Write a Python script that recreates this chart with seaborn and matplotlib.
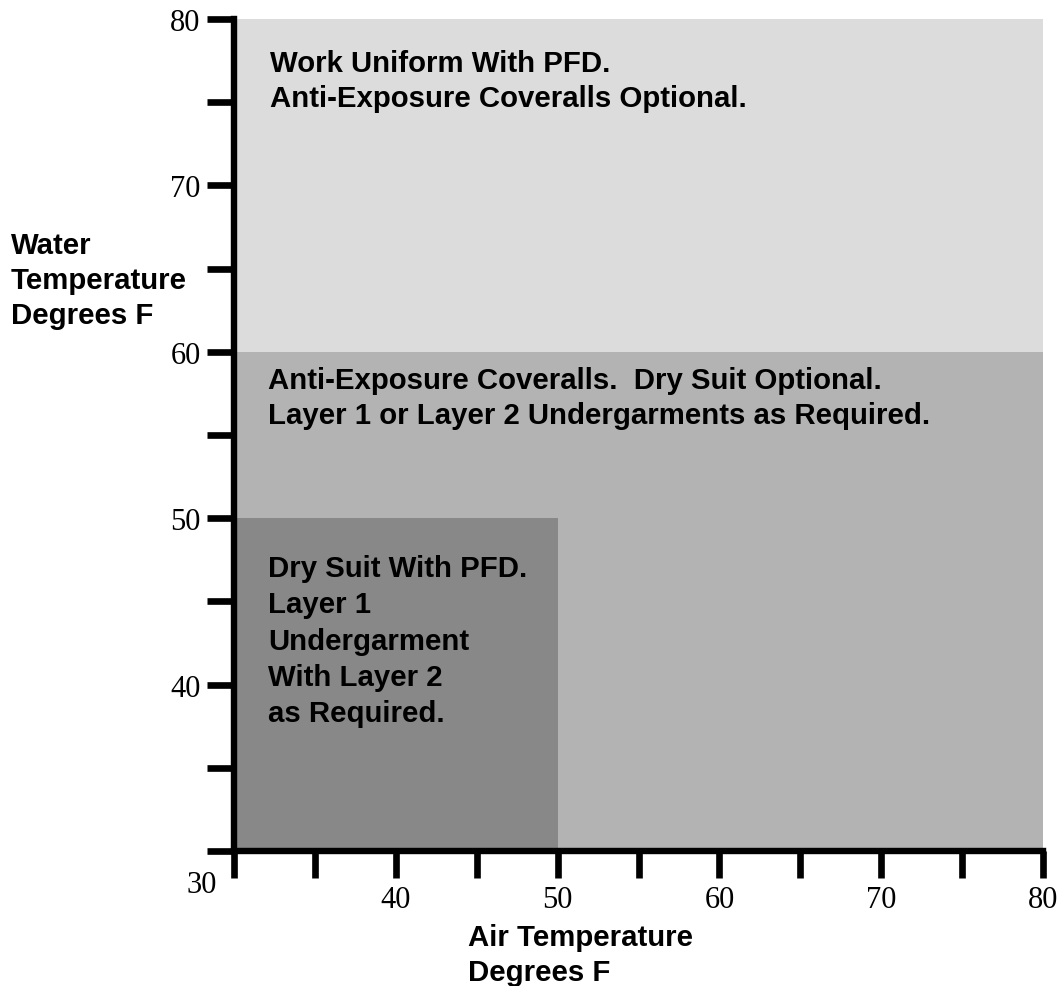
import matplotlib
matplotlib.use("Agg")
import matplotlib.pyplot as plt
import seaborn as sns
from matplotlib.ticker import FixedLocator

# ---- data ----
zone_names = ["Work Uniform", "Anti-Exposure Coveralls", "Dry Suit"]
zone_air_min = [30, 30, 30]
zone_air_max = [80, 80, 50]
zone_water_min = [60, 30, 30]
zone_water_max = [80, 60, 50]
zone_texts = [
    "Work Uniform With PFD.\nAnti-Exposure Coveralls Optional.",
    "Anti-Exposure Coveralls.  Dry Suit Optional.\nLayer 1 or Layer 2 Undergarments as Required.",
    "Dry Suit With PFD.\nLayer 1\nUndergarment\nWith Layer 2\nas Required.",
]
x_major = [30, 40, 50, 60, 70, 80]
x_major_labels = ["", "40", "50", "60", "70", "80"]
x_minor = [35, 45, 55, 65, 75]
y_major = [30, 40, 50, 60, 70, 80]
y_major_labels = ["", "40", "50", "60", "70", "80"]
y_minor = [35, 45, 55, 65, 75]
corner_label = "30"
x_label = "Air Temperature\nDegrees F"
y_label = "Water\nTemperature\nDegrees F"

# ---- style ----
zone_colors = ["#DCDCDC", "#B3B3B3", "#888888"]
text_anchor = [(32.2, 78.2), (32.1, 59.15), (32.1, 47.85)]
text_spacing = [1.30, 1.32, 1.38]

sns.set_style("ticks")
plt.rcParams["font.family"] = ["Liberation Sans", "DejaVu Sans"]
plt.rcParams["text.color"] = "black"

W, H = 1063, 987
fig = plt.figure(figsize=(W / 100, H / 100), dpi=100)
fig.patch.set_facecolor("white")
ax = fig.add_axes([234 / W, 1 - 852 / H, (1043 - 234) / W, (852 - 20) / H])
ax.set_facecolor("white")

for i in range(len(zone_names)):
    ax.bar(zone_air_min[i], zone_water_max[i] - zone_water_min[i],
           width=zone_air_max[i] - zone_air_min[i], bottom=zone_water_min[i],
           align="edge", color=zone_colors[i], edgecolor="none", linewidth=0,
           zorder=1)
    ax.text(text_anchor[i][0], text_anchor[i][1], zone_texts[i],
            fontsize=21.2, fontweight="bold", family=["Liberation Sans"],
            ha="left", va="top", linespacing=text_spacing[i], color="black",
            zorder=3)

ax.set_xlim(30, 80)
ax.set_ylim(30, 80)

ax.xaxis.set_major_locator(FixedLocator(x_major))
ax.xaxis.set_minor_locator(FixedLocator(x_minor))
ax.yaxis.set_major_locator(FixedLocator(y_major))
ax.yaxis.set_minor_locator(FixedLocator(y_minor))
ax.set_xticklabels(x_major_labels)
ax.set_yticklabels(y_major_labels)

for s in ["top", "right"]:
    ax.spines[s].set_visible(False)
for s in ["left", "bottom"]:
    ax.spines[s].set_linewidth(4.6)
    ax.spines[s].set_color("black")
    ax.spines[s].set_zorder(5)
    ax.spines[s].set_capstyle("projecting")

ax.tick_params(axis="both", which="both", direction="out", length=19.5,
               width=4.8, color="black")
ax.tick_params(axis="x", which="major", pad=5.0)
ax.tick_params(axis="y", which="major", pad=4.5)
for lab in ax.get_xticklabels() + ax.get_yticklabels():
    lab.set_fontfamily(["Liberation Serif"])
    lab.set_fontsize(22)
    lab.set_color("black")

fig.text(202 / W, 1 - 893 / H, corner_label, family=["Liberation Serif"],
         fontsize=22, ha="center", va="baseline", color="black")
fig.text(468 / W, 1 - 924 / H, x_label, fontsize=21.2, fontweight="bold",
         family=["Liberation Sans"], ha="left", va="top", linespacing=1.32,
         color="black")
fig.text(11 / W, 1 - 232 / H, y_label, fontsize=21.2, fontweight="bold",
         family=["Liberation Sans"], ha="left", va="top", linespacing=1.32,
         color="black")

fig.savefig("out.png", dpi=100, facecolor="white")
